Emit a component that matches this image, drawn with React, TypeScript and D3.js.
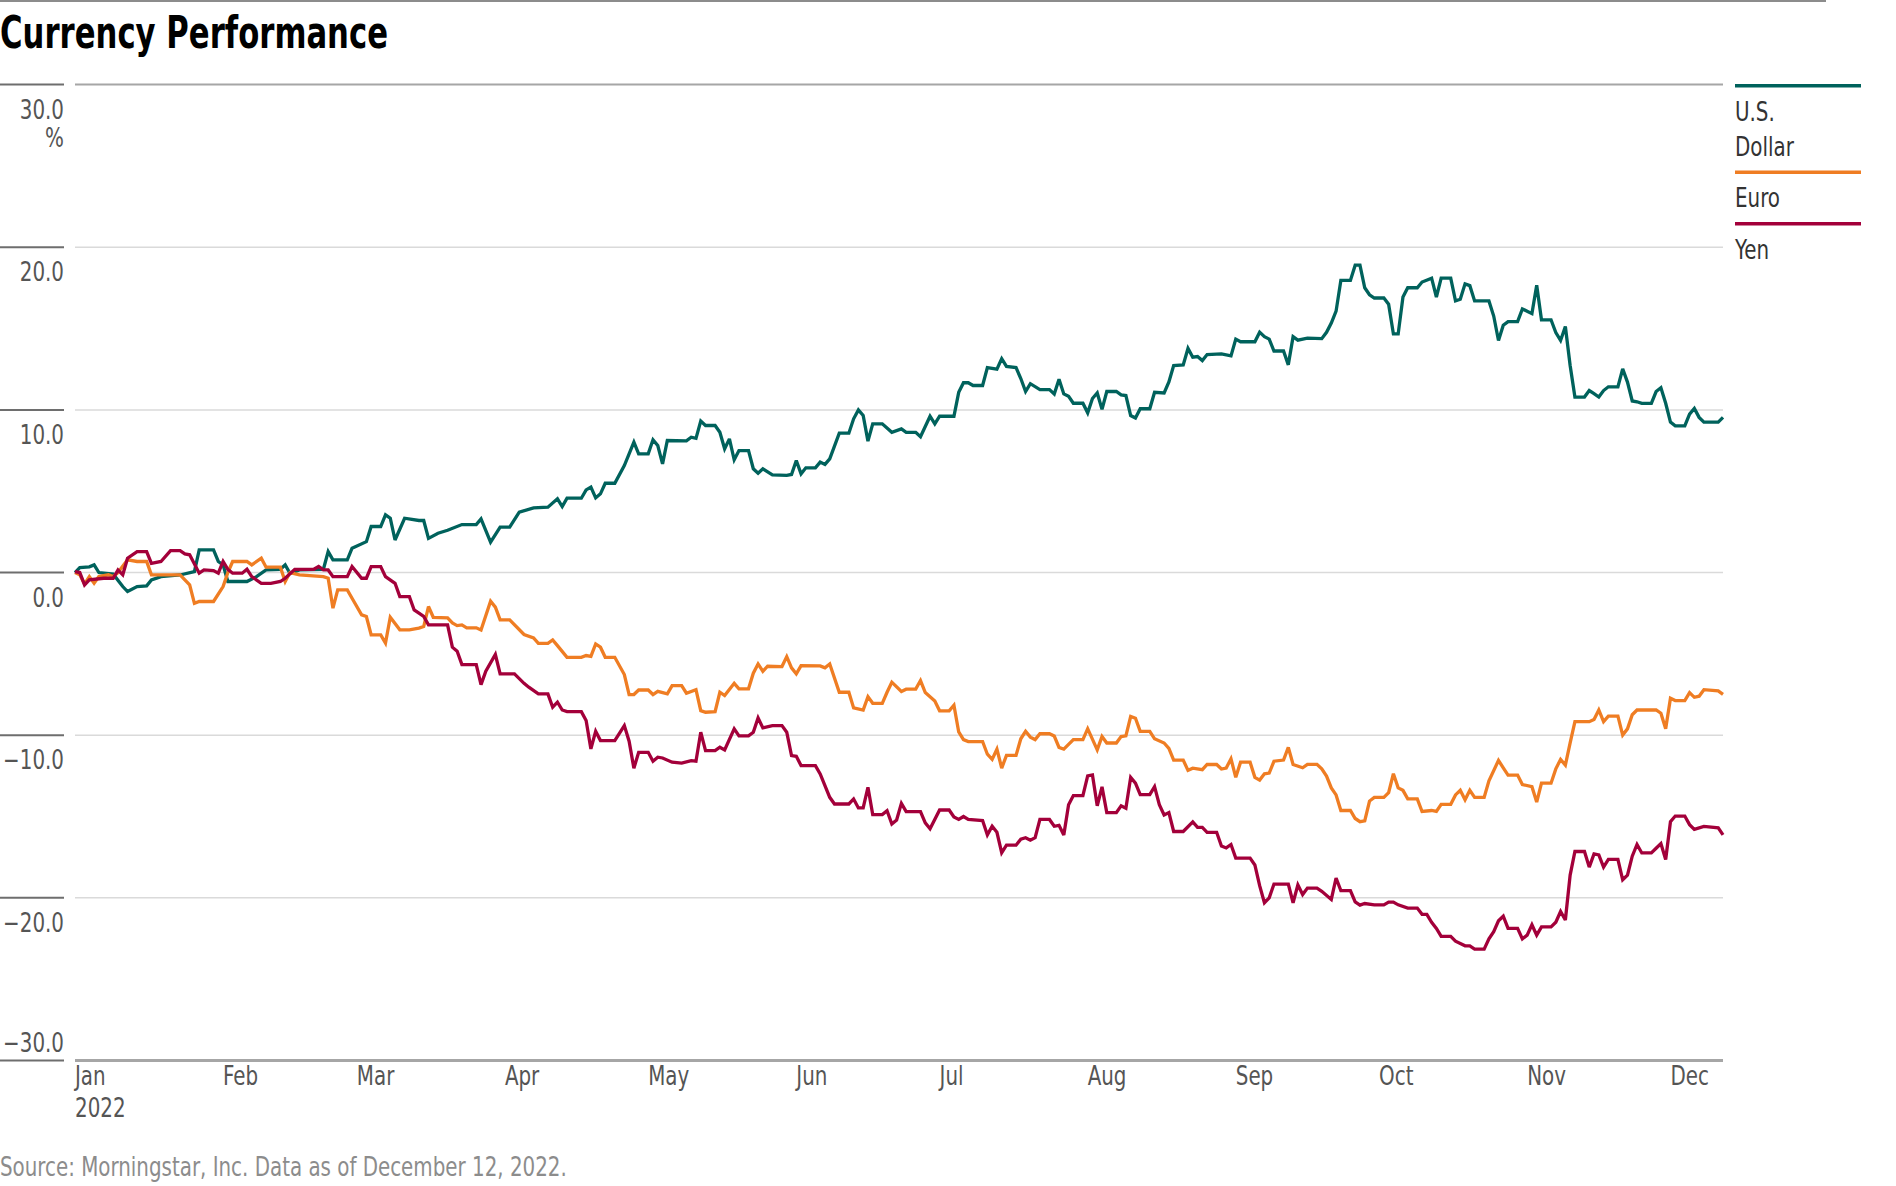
import { useEffect, useRef } from 'react'
import * as d3 from 'd3'

const W = 1896
const H = 1186
const FONT = "'Liberation Sans Narrow', 'DejaVu Sans Condensed', 'Liberation Sans', sans-serif"

const yTicks = [30, 20, 10, 0, -10, -20, -30]
const legendLabels = [['U.S.', 'Dollar'], ['Euro'], ['Yen']]
const seriesColors = ['#00625C', '#EF7D23', '#A3003A']

// % change since start of year (date is MM-DD, 2022)
const usd: [string, number][] = [
  ['01-01', 0], ['01-02', 0.3], ['01-04', 0.35], ['01-05', 0.47], ['01-06', 0], ['01-09', -0.1], ['01-11', -0.86],
  ['01-12', -1.17], ['01-14', -0.86], ['01-16', -0.82], ['01-17', -0.45], ['01-19', -0.25], ['01-23', -0.15],
  ['01-26', 0.06], ['01-27', 1.39], ['01-30', 1.39], ['01-31', 0.68], ['02-01', 0.47], ['02-02', -0.55],
  ['02-06', -0.55], ['02-08', -0.25], ['02-10', 0.16], ['02-13', 0.2], ['02-14', 0.47], ['02-15', -0.04],
  ['02-17', 0.16], ['02-22', 0.2], ['02-23', 1.29], ['02-24', 0.78], ['02-27', 0.78], ['02-28', 1.5], ['03-03', 1.9],
  ['03-04', 2.83], ['03-06', 2.83], ['03-07', 3.55], ['03-08', 3.34], ['03-09', 2.0], ['03-11', 3.34], ['03-14', 3.2],
  ['03-15', 3.2], ['03-16', 2.1], ['03-18', 2.42], ['03-20', 2.6], ['03-23', 2.95], ['03-26', 2.95], ['03-27', 3.3],
  ['03-29', 1.87], ['03-31', 2.79], ['04-02', 2.79], ['04-04', 3.71], ['04-07', 3.98], ['04-10', 4.02], ['04-12', 4.53],
  ['04-13', 4.06], ['04-14', 4.57], ['04-17', 4.57], ['04-18', 5.08], ['04-19', 5.25], ['04-20', 4.59], ['04-21', 4.84],
  ['04-22', 5.49], ['04-24', 5.49], ['04-26', 6.58], ['04-28', 8.02], ['04-29', 7.3], ['05-01', 7.3], ['05-02', 8.16],
  ['05-03', 7.81], ['05-04', 6.68], ['05-05', 8.12], ['05-09', 8.1], ['05-10', 8.32], ['05-11', 8.25], ['05-12', 9.31],
  ['05-13', 9.04], ['05-15', 9.04], ['05-16', 8.63], ['05-17', 7.61], ['05-18', 8.22], ['05-19', 6.93], ['05-20', 7.5],
  ['05-22', 7.5], ['05-23', 6.38], ['05-24', 6.11], ['05-25', 6.38], ['05-27', 6.01], ['05-30', 5.97], ['05-31', 6.03],
  ['06-01', 6.89], ['06-02', 6.07], ['06-03', 6.44], ['06-05', 6.44], ['06-06', 6.79], ['06-07', 6.65], ['06-08', 6.99],
  ['06-10', 8.57], ['06-12', 8.57], ['06-13', 9.45], ['06-14', 10.0], ['06-15', 9.66], ['06-16', 8.08], ['06-17', 9.14],
  ['06-19', 9.14], ['06-21', 8.62], ['06-23', 8.83], ['06-24', 8.62], ['06-26', 8.62], ['06-27', 8.35], ['06-29', 9.61],
  ['06-30', 9.14], ['07-01', 9.61], ['07-04', 9.61], ['07-05', 11.08], ['07-06', 11.67], ['07-07', 11.67], ['07-08', 11.5],
  ['07-10', 11.5], ['07-11', 12.6], ['07-13', 12.5], ['07-14', 13.15], ['07-15', 12.67], ['07-17', 12.6], ['07-18', 11.93],
  ['07-19', 11.13], ['07-20', 11.61], ['07-22', 11.25], ['07-24', 11.25], ['07-25', 10.98], ['07-26', 11.88],
  ['07-27', 10.98], ['07-28', 10.83], ['07-29', 10.41], ['07-31', 10.41], ['08-01', 9.82], ['08-02', 10.7],
  ['08-03', 11.04], ['08-04', 10.03], ['08-05', 11.13], ['08-07', 11.13], ['08-08', 10.92], ['08-09', 10.88],
  ['08-10', 9.65], ['08-11', 9.5], ['08-12', 10.07], ['08-14', 10.07], ['08-15', 11.08], ['08-17', 11.04],
  ['08-18', 11.72], ['08-19', 12.73], ['08-21', 12.77], ['08-22', 13.78], ['08-23', 13.24], ['08-24', 13.28],
  ['08-25', 13.03], ['08-26', 13.4], ['08-29', 13.44], ['08-31', 13.32], ['09-01', 14.35], ['09-02', 14.19],
  ['09-05', 14.19], ['09-06', 14.78], ['09-07', 14.5], ['09-08', 14.35], ['09-09', 13.62], ['09-11', 13.62],
  ['09-12', 12.77], ['09-13', 14.5], ['09-14', 14.29], ['09-16', 14.41], ['09-19', 14.38], ['09-20', 14.77],
  ['09-21', 15.34], ['09-22', 16.07], ['09-23', 17.96], ['09-25', 17.96], ['09-26', 18.9], ['09-27', 18.9],
  ['09-28', 17.51], ['09-29', 17.08], ['09-30', 16.88], ['10-02', 16.88], ['10-03', 16.5], ['10-04', 14.67],
  ['10-05', 14.67], ['10-06', 16.94], ['10-07', 17.51], ['10-09', 17.51], ['10-10', 17.86], ['10-12', 18.1],
  ['10-13', 16.94], ['10-14', 18.1], ['10-16', 18.1], ['10-17', 16.7], ['10-18', 16.8], ['10-19', 17.75],
  ['10-20', 17.64], ['10-21', 16.7], ['10-24', 16.7], ['10-25', 15.77], ['10-26', 14.27], ['10-27', 15.2],
  ['10-28', 15.43], ['10-30', 15.43], ['10-31', 16.21], ['11-01', 16.07], ['11-02', 15.92], ['11-03', 17.66],
  ['11-04', 15.54], ['11-06', 15.54], ['11-07', 14.76], ['11-08', 14.27], ['11-09', 15.13], ['11-10', 12.73],
  ['11-11', 10.79], ['11-13', 10.79], ['11-14', 11.19], ['11-15', 11.0], ['11-16', 10.79], ['11-17', 11.19],
  ['11-18', 11.42], ['11-20', 11.42], ['11-21', 12.52], ['11-22', 11.71], ['11-23', 10.55], ['11-24', 10.5],
  ['11-25', 10.4], ['11-27', 10.4], ['11-28', 11.13], ['11-29', 11.36], ['11-30', 10.41], ['12-01', 9.25],
  ['12-02', 9.02], ['12-04', 9.02], ['12-05', 9.74], ['12-06', 10.09], ['12-07', 9.54], ['12-08', 9.25],
  ['12-11', 9.25], ['12-12', 9.54],
]

const eur: [string, number][] = [
  ['01-01', 0], ['01-02', -0.14], ['01-03', -0.7], ['01-04', -0.25], ['01-05', -0.66], ['01-06', -0.25], ['01-08', -0.14],
  ['01-09', -0.25], ['01-10', 0], ['01-12', 0.78], ['01-14', 0.68], ['01-16', 0.68], ['01-17', -0.14], ['01-23', -0.14],
  ['01-24', -0.45], ['01-25', -0.76], ['01-26', -1.89], ['01-27', -1.78], ['01-30', -1.78], ['02-01', -0.86],
  ['02-02', 0], ['02-03', 0.68], ['02-06', 0.68], ['02-07', 0.47], ['02-09', 0.88], ['02-10', 0.33], ['02-13', 0.33],
  ['02-14', -0.55], ['02-15', 0], ['02-17', -0.14], ['02-22', -0.25], ['02-23', -0.35], ['02-24', -2.19],
  ['02-25', -1.07], ['02-27', -1.07], ['02-28', -1.58], ['03-02', -2.6], ['03-03', -2.7], ['03-04', -3.83],
  ['03-06', -3.83], ['03-07', -4.34], ['03-08', -2.75], ['03-10', -3.52], ['03-12', -3.52], ['03-14', -3.42],
  ['03-15', -3.32], ['03-16', -2.09], ['03-17', -2.75], ['03-20', -2.79], ['03-21', -3.1], ['03-22', -3.26],
  ['03-23', -3.22], ['03-24', -3.4], ['03-26', -3.4], ['03-27', -3.53], ['03-29', -1.76], ['03-30', -2.13],
  ['03-31', -2.91], ['04-02', -2.91], ['04-05', -3.81], ['04-07', -4.02], ['04-08', -4.35], ['04-10', -4.35],
  ['04-11', -4.14], ['04-12', -4.49], ['04-14', -5.21], ['04-17', -5.21], ['04-18', -5.1], ['04-19', -5.15],
  ['04-20', -4.39], ['04-21', -4.59], ['04-22', -5.21], ['04-24', -5.21], ['04-26', -6.27], ['04-27', -7.5],
  ['04-28', -7.5], ['04-29', -7.22], ['05-01', -7.22], ['05-02', -7.5], ['05-03', -7.3], ['05-05', -7.46],
  ['05-06', -6.95], ['05-08', -6.95], ['05-09', -7.42], ['05-11', -7.2], ['05-12', -8.49], ['05-13', -8.59],
  ['05-15', -8.55], ['05-16', -7.36], ['05-17', -7.56], ['05-19', -6.81], ['05-20', -7.15], ['05-22', -7.15],
  ['05-23', -6.19], ['05-24', -5.62], ['05-25', -6.07], ['05-26', -5.76], ['05-29', -5.78], ['05-30', -5.17],
  ['05-31', -5.86], ['06-01', -6.23], ['06-02', -5.72], ['06-06', -5.74], ['06-07', -5.86], ['06-08', -5.62],
  ['06-10', -7.36], ['06-12', -7.36], ['06-13', -8.32], ['06-15', -8.45], ['06-16', -7.63], ['06-17', -8.04],
  ['06-19', -8.04], ['06-20', -7.36], ['06-21', -6.74], ['06-23', -7.31], ['06-24', -7.17], ['06-26', -7.17],
  ['06-27', -6.64], ['06-28', -7.38], ['06-30', -7.9], ['07-01', -8.5], ['07-03', -8.5], ['07-04', -8.16],
  ['07-05', -9.8], ['07-06', -10.27], ['07-07', -10.39], ['07-10', -10.39], ['07-11', -11.17], ['07-12', -11.49],
  ['07-13', -10.86], ['07-14', -12.02], ['07-15', -11.24], ['07-17', -11.24], ['07-18', -10.22], ['07-19', -9.76],
  ['07-20', -10.12], ['07-21', -10.27], ['07-22', -9.91], ['07-24', -9.91], ['07-25', -10.05], ['07-26', -10.75],
  ['07-27', -10.86], ['07-29', -10.27], ['07-31', -10.27], ['08-01', -9.6], ['08-03', -10.9], ['08-04', -10.08],
  ['08-05', -10.48], ['08-07', -10.48], ['08-08', -10.08], ['08-09', -10.04], ['08-10', -8.85], ['08-11', -8.96],
  ['08-12', -9.76], ['08-14', -9.76], ['08-15', -10.22], ['08-17', -10.48], ['08-18', -10.81], ['08-19', -11.53],
  ['08-21', -11.53], ['08-22', -12.16], ['08-23', -12.03], ['08-25', -12.12], ['08-26', -11.8], ['08-28', -11.8],
  ['08-29', -12.08], ['08-30', -12.02], ['08-31', -11.45], ['09-01', -12.59], ['09-02', -11.66], ['09-04', -11.66],
  ['09-05', -12.59], ['09-06', -12.76], ['09-07', -12.37], ['09-08', -12.33], ['09-09', -11.6], ['09-11', -11.53],
  ['09-12', -10.75], ['09-13', -11.8], ['09-15', -12.0], ['09-16', -11.79], ['09-18', -11.79], ['09-19', -12.07],
  ['09-20', -12.51], ['09-21', -13.24], ['09-22', -13.67], ['09-23', -14.63], ['09-25', -14.63], ['09-26', -15.12],
  ['09-27', -15.32], ['09-28', -15.27], ['09-29', -14.05], ['09-30', -13.82], ['10-02', -13.82], ['10-03', -13.53],
  ['10-04', -12.37], ['10-05', -13.24], ['10-06', -13.39], ['10-07', -13.91], ['10-09', -13.91], ['10-10', -14.69],
  ['10-12', -14.63], ['10-13', -14.69], ['10-14', -14.25], ['10-16', -14.25], ['10-17', -13.67], ['10-18', -13.39],
  ['10-19', -13.97], ['10-20', -13.39], ['10-21', -13.82], ['10-23', -13.82], ['10-24', -12.8], ['10-26', -11.55],
  ['10-27', -12.01], ['10-28', -12.45], ['10-30', -12.45], ['10-31', -13.03], ['11-02', -13.17], ['11-03', -14.11],
  ['11-04', -12.95], ['11-06', -12.95], ['11-07', -12.07], ['11-08', -11.49], ['11-09', -11.84], ['11-10', -10.47],
  ['11-11', -9.17], ['11-14', -9.17], ['11-15', -9.03], ['11-16', -8.45], ['11-17', -9.17], ['11-18', -8.83],
  ['11-20', -8.83], ['11-21', -9.99], ['11-22', -9.61], ['11-23', -8.74], ['11-24', -8.45], ['11-28', -8.45],
  ['11-29', -8.65], ['11-30', -9.61], ['12-01', -7.73], ['12-02', -7.87], ['12-04', -7.87], ['12-05', -7.38],
  ['12-06', -7.67], ['12-07', -7.6], ['12-08', -7.2], ['12-11', -7.28], ['12-12', -7.49],
]

const jpy: [string, number][] = [
  ['01-01', 0.06], ['01-02', 0], ['01-03', -0.76], ['01-04', -0.45], ['01-07', -0.35], ['01-09', -0.35], ['01-10', 0.16],
  ['01-11', -0.14], ['01-12', 0.88], ['01-14', 1.29], ['01-16', 1.29], ['01-17', 0.57], ['01-19', 0.68], ['01-21', 1.35],
  ['01-23', 1.35], ['01-24', 1.15], ['01-25', 1.09], ['01-27', -0.04], ['01-28', 0.16], ['01-30', 0.12], ['01-31', -0.04],
  ['02-01', 0.68], ['02-02', 0.2], ['02-03', -0.04], ['02-05', -0.04], ['02-06', 0.2], ['02-07', -0.25], ['02-09', -0.66],
  ['02-11', -0.66], ['02-13', -0.55], ['02-14', -0.35], ['02-16', 0.2], ['02-20', 0.2], ['02-21', 0.37], ['02-22', 0.16],
  ['02-23', 0.16], ['02-24', -0.25], ['02-27', -0.25], ['02-28', 0.37], ['03-02', -0.35], ['03-03', -0.35],
  ['03-04', 0.37], ['03-06', 0.37], ['03-07', -0.25], ['03-09', -0.66], ['03-10', -1.48], ['03-12', -1.48],
  ['03-13', -2.3], ['03-14', -2.5], ['03-15', -2.7], ['03-16', -3.22], ['03-20', -3.22], ['03-21', -4.59],
  ['03-22', -4.84], ['03-23', -5.66], ['03-26', -5.66], ['03-27', -6.89], ['03-28', -6.07], ['03-30', -5.04],
  ['03-31', -6.23], ['04-03', -6.23], ['04-05', -6.81], ['04-06', -7.05], ['04-08', -7.46], ['04-10', -7.46],
  ['04-11', -8.28], ['04-12', -7.97], ['04-13', -8.45], ['04-14', -8.55], ['04-17', -8.55], ['04-18', -9.1],
  ['04-19', -10.84], ['04-20', -9.76], ['04-21', -10.33], ['04-24', -10.33], ['04-26', -9.41], ['04-27', -10.37],
  ['04-28', -12.03], ['04-29', -11.05], ['05-01', -11.05], ['05-02', -11.6], ['05-03', -11.35], ['05-04', -11.4],
  ['05-06', -11.66], ['05-08', -11.72], ['05-10', -11.56], ['05-11', -11.6], ['05-12', -9.82], ['05-13', -10.95],
  ['05-15', -10.95], ['05-16', -10.74], ['05-17', -10.9], ['05-19', -9.61], ['05-20', -10.04], ['05-22', -10.04],
  ['05-23', -9.82], ['05-24', -8.94], ['05-25', -9.55], ['05-27', -9.41], ['05-29', -9.41], ['05-30', -9.82],
  ['05-31', -11.25], ['06-01', -11.3], ['06-02', -11.87], ['06-05', -11.87], ['06-06', -12.38], ['06-08', -13.82],
  ['06-09', -14.23], ['06-12', -14.23], ['06-13', -13.92], ['06-14', -14.47], ['06-15', -14.47], ['06-16', -13.2],
  ['06-17', -14.88], ['06-19', -14.88], ['06-20', -14.64], ['06-21', -15.46], ['06-22', -15.21], ['06-23', -14.19],
  ['06-24', -14.7], ['06-27', -14.7], ['06-28', -15.39], ['06-29', -15.75], ['07-01', -14.6], ['07-03', -14.6],
  ['07-04', -15.03], ['07-05', -15.18], ['07-06', -15.0], ['07-07', -15.18], ['07-10', -15.25], ['07-11', -16.13],
  ['07-12', -15.6], ['07-13', -15.97], ['07-14', -17.23], ['07-15', -16.76], ['07-17', -16.76], ['07-18', -16.39],
  ['07-19', -16.3], ['07-20', -16.45], ['07-21', -16.3], ['07-22', -15.18], ['07-24', -15.18], ['07-25', -15.6],
  ['07-26', -15.54], ['07-27', -16.13], ['07-28', -14.27], ['07-29', -13.71], ['07-31', -13.71], ['08-01', -12.5],
  ['08-02', -12.44], ['08-03', -14.34], ['08-04', -13.18], ['08-05', -14.76], ['08-07', -14.76], ['08-08', -14.34],
  ['08-09', -14.49], ['08-10', -12.59], ['08-11', -12.95], ['08-12', -13.65], ['08-14', -13.65], ['08-15', -13.16],
  ['08-16', -14.27], ['08-17', -14.91], ['08-18', -14.76], ['08-19', -15.92], ['08-21', -15.92], ['08-23', -15.33],
  ['08-24', -15.67], ['08-25', -15.67], ['08-26', -15.97], ['08-28', -15.97], ['08-29', -16.81], ['08-30', -16.93],
  ['08-31', -16.72], ['09-01', -17.56], ['09-04', -17.56], ['09-05', -17.98], ['09-06', -19.25], ['09-07', -20.3],
  ['09-08', -20.0], ['09-09', -19.15], ['09-12', -19.15], ['09-13', -20.3], ['09-14', -19.2], ['09-15', -19.8],
  ['09-16', -19.4], ['09-18', -19.4], ['09-19', -19.6], ['09-21', -20.1], ['09-22', -18.78], ['09-23', -19.55],
  ['09-25', -19.55], ['09-26', -20.25], ['09-27', -20.45], ['09-28', -20.35],
  ['09-30', -20.43], ['10-02', -20.43], ['10-03', -20.26], ['10-04', -20.26], ['10-05', -20.43], ['10-07', -20.63],
  ['10-09', -20.63], ['10-10', -21.01], ['10-11', -21.01], ['10-12', -21.5], ['10-13', -21.88], ['10-14', -22.37],
  ['10-16', -22.37], ['10-17', -22.66], ['10-19', -22.95], ['10-20', -22.95], ['10-21', -23.15], ['10-23', -23.15],
  ['10-24', -22.52], ['10-25', -22.08], ['10-26', -21.41], ['10-27', -21.13], ['10-28', -21.88], ['10-30', -21.88],
  ['10-31', -22.52], ['11-01', -22.29], ['11-02', -21.65], ['11-03', -22.29], ['11-04', -21.79], ['11-06', -21.79],
  ['11-07', -21.5], ['11-08', -20.84], ['11-09', -21.36], ['11-10', -18.6], ['11-11', -17.15], ['11-13', -17.15],
  ['11-14', -18.11], ['11-15', -17.3], ['11-16', -17.36], ['11-17', -18.11], ['11-18', -17.64], ['11-20', -17.64],
  ['11-21', -18.89], ['11-22', -18.6], ['11-23', -17.44], ['11-24', -16.72], ['11-25', -17.24], ['11-27', -17.24],
  ['11-28', -16.95], ['11-29', -16.66], ['11-30', -17.64], ['12-01', -15.32], ['12-02', -14.97], ['12-04', -14.97],
  ['12-05', -15.5], ['12-06', -15.79], ['12-08', -15.61], ['12-11', -15.7], ['12-12', -16.13],
]

const series = [usd, eur, jpy]
const parseDay = d3.timeParse('%Y-%m-%d')
const toDate = (md: string) => parseDay('2022-' + md) as Date

export default function App() {
  const svgRef = useRef<SVGSVGElement>(null)

  useEffect(() => {
    if (!svgRef.current) return
    const svg = d3.select(svgRef.current)
    svg.selectAll('*').remove()

    const plotLeft = 75
    const plotRight = 1723
    const x = d3.scaleTime().domain([toDate('01-01'), toDate('12-12')]).range([plotLeft, plotRight])
    const y = d3.scaleLinear().domain([-30, 30]).range([1060.5, 84.6])

    // condensed-looking label: the installed fonts are wider than the original
    const label = (tx: number, ty: number, str: string, fill: string, anchor = 'start') =>
      svg.append('text')
        .attr('transform', `translate(${tx},${ty}) scale(0.85,1)`)
        .attr('text-anchor', anchor)
        .attr('font-family', FONT).attr('font-size', 26).attr('fill', fill)
        .text(str)

    // top rule + title
    svg.append('line').attr('x1', 0).attr('x2', 1826).attr('y1', 1).attr('y2', 1)
      .attr('stroke', '#8c8c8c').attr('stroke-width', 2)
    svg.append('text').attr('x', 0).attr('y', 48)
      .attr('font-family', FONT).attr('font-weight', 700).attr('font-size', 44).attr('fill', '#000')
      .attr('textLength', 388).attr('lengthAdjust', 'spacingAndGlyphs')
      .text('Currency Performance')

    // grid + left tick stubs
    yTicks.forEach(t => {
      const edge = t === 30 || t === -30
      svg.append('line').attr('x1', plotLeft).attr('x2', plotRight).attr('y1', y(t)).attr('y2', y(t))
        .attr('stroke', edge ? '#a6a6a6' : '#dadada').attr('stroke-width', t === -30 ? 3 : edge ? 2 : 1.5)
      svg.append('line').attr('x1', 0).attr('x2', 64).attr('y1', y(t)).attr('y2', y(t))
        .attr('stroke', '#6e6e6e').attr('stroke-width', 2)
      label(64, t === -30 ? y(t) - 9 : y(t) + 34, d3.format('.1f')(t).replace('-', '\u2212'), '#555', 'end')
    })
    label(64, y(30) + 62, '%', '#555', 'end')

    // month labels
    const months = d3.timeMonth.range(toDate('01-01'), toDate('12-12'))
    months.forEach(m => label(x(m), 1085, d3.timeFormat('%b')(m), '#555'))
    label(x(months[0]), 1117, '2022', '#555')

    // series
    const line = d3.line<[string, number]>()
      .x(d => x(toDate(d[0])))
      .y(d => y(d[1]))
    series.forEach((s, i) => {
      svg.append('path').datum(s)
        .attr('fill', 'none').attr('stroke', seriesColors[i]).attr('stroke-width', 3.3)
        .attr('stroke-linejoin', 'miter').attr('stroke-miterlimit', 3)
        .attr('d', line)
    })

    // legend
    let ly = 85.7
    legendLabels.forEach((lines, i) => {
      svg.append('line').attr('x1', 1735).attr('x2', 1861).attr('y1', ly).attr('y2', ly)
        .attr('stroke', seriesColors[i]).attr('stroke-width', 3.5)
      let ty = ly
      lines.forEach(l => {
        ty += 35
        label(1735, ty, l, '#333')
      })
      ly = ty + 16.5
    })

    // source
    label(0, 1176, 'Source: Morningstar, Inc. Data as of December 12, 2022.', '#8c8c8c')
  }, [])

  return (
    <svg
      ref={svgRef}
      width={W}
      height={H}
      style={{ position: 'absolute', left: 0, top: 0, background: '#fff' }}
    />
  )
}
